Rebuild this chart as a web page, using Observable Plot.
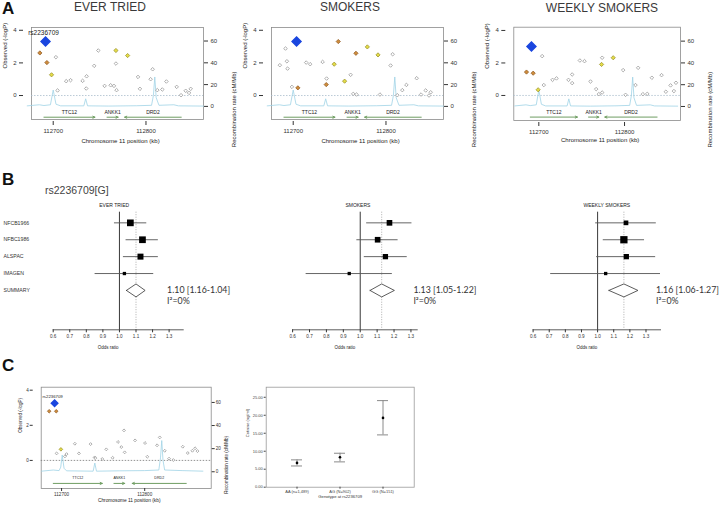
<!DOCTYPE html>
<html><head><meta charset="utf-8">
<script src="https://cdn.jsdelivr.net/npm/d3@7"></script>
<script src="https://cdn.jsdelivr.net/npm/@observablehq/plot@0.6"></script>
<style>
body{margin:0;background:#fff;}
#root{position:relative;width:722px;height:505px;overflow:hidden;background:#fff;font-family:"Liberation Sans",Arial,sans-serif;}
.abs{position:absolute;}
.letter{font-weight:bold;font-size:17px;color:#111;line-height:17px;}
.title{font-size:12px;color:#3a3a3a;white-space:nowrap;transform:translateX(-50%);line-height:14px;}
</style></head><body><div id="root"></div>
<script>
// ---------- DATA ----------
const locusTicksX = [112700, 112800];
const logpTicks = [0, 2, 4];
const recombTicks = [0, 20, 40, 60];
const genes = ["TTC12", "ANKK1", "DRD2"];
const geneStrand = [1, 1, -1];
const geneStartA = [112690, 112758, 112777];
const geneEndA = [112745, 112770, 112838];
const geneStartC = [112690, 112763, 112785];
const geneEndC = [112749, 112776, 112850];
const recombA = [[112672,0.5],[112685,1.5],[112690,0.8],[112697,1.5],[112700,15],[112703,2],[112708,0.5],[112733,0.5],[112735,7],[112737,0.5],[112760,0.3],[112790,0.6],[112806,1],[112808,10],[112809.5,27],[112811,8],[112814,1],[112830,1.5],[112835,0.5],[112862,0.3]];
const recombC = [[112676,0.5],[112690,1.5],[112697,1],[112699,4],[112700.8,14.5],[112703,3],[112706,0.8],[112738,0.5],[112740,7.5],[112742,0.5],[112770,0.8],[112800,1],[112817,1.5],[112819,12],[112820.5,27],[112822,10],[112824,1.5],[112845,1],[112870,0.5]];
const leadSnp = "rs2236709";

const everLead = [[112691.7,3.31]];
const everOrange = [[112685.6,2.61],[112693.2,2.02]];
const everYellow = [[112698.2,1.27],[112767.6,2.76],[112780.2,2.45]];
const everGray = [[112702.9,2.35],[112704.7,0.31],[112714,0.88],[112718.7,0.94],[112731.7,0.90],[112736,1.18],[112735.6,0.43],[112744.2,1.82],[112748.6,2.76],[112755.4,0.59],[112761.9,0.63],[112765.5,0.59],[112768.3,0.33],[112767.6,1.96],[112791.4,1.14],[112793.5,0.41],[112805,1.0],[112807.2,1.61],[112812.2,0.33],[112817.6,0.37],[112822,0.86],[112833.1,0.53],[112837.8,0.02],[112842.8,0.29],[112846.4,0.16],[112848.2,0.41]];

const smkLead = [[112703.6,3.31]];
const smkOrange = [[112705,0.47],[112735.6,0.67],[112748.6,3.31],[112767.6,2.59]];
const smkYellow = [[112744.2,1.92],[112755.4,0.88],[112779.9,2.98],[112791.4,2.49]];
const smkGray = [[112685.6,1.86],[112691.7,2.88],[112693.2,2.10],[112693.9,1.65],[112698.6,0.53],[112714,2.02],[112718.3,1.92],[112731.7,2.06],[112736,1.04],[112761.9,1.27],[112764.7,0.10],[112768.3,0.06],[112793.5,0.06],[112805,1.84],[112807.2,2.53],[112812.2,0.02],[112817.6,0.33],[112822,0.65],[112833.1,1.06],[112837.8,0.06],[112842.8,0.31],[112846.4,0.0],[112848.2,0.2]];

const wkLead = [[112691.4,3.02]];
const wkOrange = [[112685.6,1.44],[112693.4,1.37]];
const wkYellow = [[112699.2,0.35],[112773.2,1.91],[112786.8,2.32]];
const wkGray = [[112703.9,2.42],[112705.8,0.64],[112716,0.96],[112720.6,1.05],[112734.6,0.96],[112738.9,1.29],[112738.9,0.76],[112747.9,2.15],[112753.3,2.11],[112760.3,0.86],[112766.9,0.39],[112770,0.08],[112773.9,0.18],[112773.9,2.32],[112798.4,1.56],[112801.2,0.04],[112812.8,0.64],[112815.9,1.70],[112821.4,0.08],[112826.5,0.10],[112831.9,1.09],[112843.2,1.25],[112848.2,0.23],[112853.7,0.62],[112857.6,0.27],[112860,0.78]];

const cLead = [[112691.6,3.26]];
const cOrange = [[112685.1,2.80],[112693.6,2.80]];
const cYellow = [[112699.2,0.63]];
const cGray = [[112694,0.40],[112704,0.23],[112706,0.36],[112716,0.95],[112720.9,0.40],[112734.9,0.93],[112739.8,0.17],[112740.6,0.13],[112749,0.08],[112753.8,0.63],[112761.4,0.15],[112767.9,1.05],[112771.9,0.76],[112775.9,0.46],[112775.1,1.71],[112788.4,1.14],[112800.4,0.99],[112803.2,0.21],[112814.9,0.86],[112818.1,1.31],[112824.1,0.55],[112829.3,0.10],[112834.5,0.02],[112845.8,0.78],[112851.8,0.42],[112857.4,0.55],[112860.6,0.69],[112863.5,0.53]];

// Forest plots
const studies = ["NFCB1966", "NFBC1986", "ALSPAC", "IMAGEN"];
const summaryLabel = "SUMMARY";
const orTicks = [0.6, 0.7, 0.8, 0.9, 1.0, 1.1, 1.2, 1.3];
const everOR = [1.066, 1.139, 1.127, 1.03];
const everLo = [0.97, 1.04, 1.024, 0.853];
const everHi = [1.165, 1.235, 1.235, 1.207];
const everW = [45, 45, 36, 11];
const everSum = [1.10, 1.042, 1.155];
const everText = ["1.10 [1.16-1.04]", "I²=0%"];
const smkOR = [1.173, 1.103, 1.149, 0.935];
const smkLo = [1.038, 0.98, 1.024, 0.68];
const smkHi = [1.306, 1.224, 1.278, 1.19];
const smkW = [32, 32, 28, 11];
const smkSum = [1.127, 1.058, 1.202];
const smkText = ["1.13 [1.05-1.22]", "I²=0%"];
const wkOR = [1.176, 1.163, 1.178, 1.05];
const wkLo = [0.988, 1.035, 0.994, 0.709];
const wkHi = [1.364, 1.291, 1.36, 1.39];
const wkW = [22, 53, 28, 11];
const wkSum = [1.163, 1.07, 1.25];
const wkText = ["1.16 [1.06-1.27]", "I²=0%"];

// Cotinine by genotype
const genotypes = ["AA (n=1,489)", "AG (N=902)", "GG (N=151)"];
const cotMean = [6.76, 8.33, 19.26];
const cotLo = [5.9, 7.04, 14.54];
const cotHi = [7.6, 9.44, 24.07];
const cotTicks = [0, 5, 10, 15, 20, 25];

// ---------- DRAWING ----------
const root = document.getElementById("root");
const FONT = "'Liberation Sans', Arial, sans-serif";
function place(el, left, top) {
  const d = document.createElement("div");
  d.className = "abs"; d.style.left = left + "px"; d.style.top = top + "px";
  d.appendChild(el); root.appendChild(d);
}
function html(cls, text, left, top, extra) {
  const d = document.createElement("div");
  d.className = "abs " + cls; d.textContent = text;
  d.style.left = left + "px"; d.style.top = top + "px";
  if (extra) Object.assign(d.style, extra);
  root.appendChild(d);
}

function locus(o) {
  const toLeft = r => o.R0 + r * o.RS;
  const gi = genes.map((g, i) => i);
  const fs = o.fs;
  const marks = [
    Plot.frame({stroke: "#8a8a8a", strokeWidth: 0.8}),
    Plot.ruleY([0], {stroke: o.zeroColor, strokeDasharray: "1.5,1.5", strokeWidth: 0.8}),
    Plot.line(o.recomb, {x: d => d[0], y: d => toLeft(d[1]), stroke: "#9fd3e6", strokeWidth: 0.8}),
    Plot.arrow(gi, {
      x1: i => geneStrand[i] > 0 ? o.gs[i] : o.ge[i],
      x2: i => geneStrand[i] > 0 ? o.ge[i] : o.gs[i],
      y1: () => o.geneY, y2: () => o.geneY,
      stroke: "#6f9e62", strokeWidth: 1, headLength: 3.5, headAngle: 50
    }),
    Plot.text(gi, {x: i => (o.gs[i] + o.ge[i]) / 2, y: () => o.geneY + 0.31, text: i => genes[i], fontSize: o.geneFs, fill: "#222"}),
    Plot.dot(o.gray, {x: d => d[0], y: d => d[1], symbol: "diamond2", r: o.rGray, stroke: "#999", fill: "white", strokeWidth: 0.8}),
    Plot.dot(o.yellow, {x: d => d[0], y: d => d[1], symbol: "diamond2", r: o.rCol, stroke: "#9d9530", fill: "#e4dc47", strokeWidth: 0.8}),
    Plot.dot(o.orange, {x: d => d[0], y: d => d[1], symbol: "diamond2", r: o.rCol, stroke: "#94602a", fill: "#cf8d3c", strokeWidth: 0.8}),
    Plot.dot(o.lead, {x: d => d[0], y: d => d[1], symbol: "diamond2", r: o.rLead, fill: "#1a46df", stroke: "#1a46df"}),
    Plot.axisY(logpTicks, {anchor: "left", tickSize: o.tick, tickPadding: o.pad, dx: o.axDx, fontSize: fs, label: null}),
    Plot.axisY(recombTicks.map(toLeft), {anchor: "right", tickSize: o.tick, tickPadding: o.pad, fontSize: fs, label: null, tickFormat: d => String(Math.round((d - o.R0) / o.RS))}),
    Plot.axisX(locusTicksX, {tickSize: o.tick, tickPadding: o.pad, dy: o.axXdy, fontSize: fs, label: null, tickFormat: d => String(d)}),
    Plot.text(["Observed (-logP)"], {frameAnchor: "left", rotate: -90, dx: o.ylabDx, dy: -5, fontSize: fs, fill: "#222"}),
    Plot.text(["Recombination rate (cM/Mb)"], {frameAnchor: "right", rotate: -90, dx: o.rlabDx, dy: -2, fontSize: fs, fill: "#222"}),
    Plot.text(["Chromosome 11 position (kb)"], {frameAnchor: "bottom", dy: o.xlabDy, dx: 3, fontSize: o.xlabFs, fill: "#222"})
  ];
  if (o.showLabel) marks.push(Plot.text(o.lead, {x: d => d[0], y: d => d[1], text: () => leadSnp, dy: o.labDy, dx: -2, fontSize: o.labFs, fill: "#222"}));
  const p = Plot.plot({
    width: o.width, height: o.height,
    marginLeft: o.ml, marginRight: o.mr, marginTop: o.mt, marginBottom: o.mb,
    x: {domain: o.xd, axis: null}, y: {domain: o.yd, axis: null},
    style: {fontFamily: FONT, background: "transparent", overflow: "visible", color: "#333"},
    marks
  });
  place(p, o.left, o.top);
}

const common = {gs: geneStartA, ge: geneEndA, recomb: recombA, fs: 6, geneFs: 5, tick: 4, pad: 3, axDx: -8, axXdy: 2,
  rGray: 1.6, rCol: 1.9, rLead: 4, zeroColor: "#a9bccb", geneY: -1.33, xlabFs: 6, labFs: 6.5, labDy: -9,
  width: 240, height: 130, top: 20, mt: 7, mb: 31, ml: 31, mr: 37, ylabDx: -26.5, rlabDx: 31, xlabDy: 23};
locus({...common, left: 0, xd: [112676.6, 112862], yd: [-1.47, 4.17], R0: -0.667, RS: 0.0668,
  lead: everLead, orange: everOrange, yellow: everYellow, gray: everGray, showLabel: true});
locus({...common, left: 240, xd: [112676.6, 112862], yd: [-1.47, 4.17], R0: -0.667, RS: 0.0668,
  lead: smkLead, orange: smkOrange, yellow: smkYellow, gray: smkGray, showLabel: false});
locus({...common, left: 480, width: 242, ml: 33.3, mr: 42, mt: 6.7, mb: 30, rlabDx: 30, xlabDy: 21.7,
  xd: [112670.8, 112865.3], yd: [-1.54, 4.2], R0: -0.677, RS: 0.067,
  lead: wkLead, orange: wkOrange, yellow: wkYellow, gray: wkGray, showLabel: false});
locus({...common, left: 0, top: 370, width: 240, height: 135, ml: 40.7, mr: 29.3, mt: 16.7, mb: 17,
  gs: geneStartC, ge: geneEndC, recomb: recombC, fs: 4.6, geneFs: 3.6, tick: 3, pad: 1.5, axDx: -8, axXdy: 0,
  rGray: 1.3, rCol: 1.6, rLead: 2.9, zeroColor: "#777", geneY: -1.31, xlabFs: 4.8, labFs: 4.3, labDy: -6.7,
  ylabDx: -20.7, rlabDx: 15.5, xlabDy: 13.7,
  xd: [112675.5, 112880], yd: [-1.6, 4.17], R0: -0.646, RS: 0.0658,
  lead: cLead, orange: cOrange, yellow: cYellow, gray: cGray, showLabel: true});

function forest(o) {
  const n = studies.length;
  const idx = studies.map((s, i) => i);
  const h = 0.385;
  const [est, lo, hi] = o.sum;
  const diamond = [[lo, n], [est, n - h], [hi, n], [est, n + h], [lo, n]];
  const marks = [
    Plot.ruleX([1], {stroke: "#222", strokeWidth: 0.9}),
    Plot.ruleX([est], {stroke: "#999", strokeDasharray: "1,1.5", strokeWidth: 0.8}),
    Plot.ruleY(idx, {y: i => i, x1: i => o.lo[i], x2: i => o.hi[i], stroke: "#555", strokeWidth: 0.9}),
    Plot.dot(idx, {x: i => o.or[i], y: i => i, r: i => o.w[i], symbol: "square", fill: "#000"}),
    Plot.line(diamond, {x: d => d[0], y: d => d[1], fill: "white", stroke: "#333", strokeWidth: 0.8}),
    Plot.text([o.text[0]], {x: () => hi, y: () => n, dx: o.textDx, textAnchor: "start", fontSize: 8.8, fill: "#333", fontFamily: "Lato"}),
    Plot.text([o.text[1]], {x: () => hi, y: () => n, dx: o.textDx, dy: 11, textAnchor: "start", fontSize: 8.8, fill: "#333", fontFamily: "Lato"}),
    Plot.text([o.title], {frameAnchor: "top", dy: -8.7, dx: o.titleDx, fontSize: 5, fill: "#222"}),
    Plot.frame({anchor: "bottom", stroke: "#333", strokeWidth: 0.8}),
    Plot.axisX(orTicks, {tickSize: 3, tickPadding: 1.5, fontSize: 4.6, tickFormat: d3.format(".1f"), label: null}),
    Plot.text(["Odds ratio"], {frameAnchor: "bottom", dy: 19, dx: -10, fontSize: 4.5, fill: "#222"})
  ];
  if (o.labels) marks.push(Plot.text([...studies, summaryLabel], {y: (d, i) => i, text: d => d, frameAnchor: "left", textAnchor: "start", dx: -49.7, fontSize: 5.2, fill: "#333"}));
  const p = Plot.plot({
    width: o.width, height: 156, marginTop: 15.7, marginBottom: 22.7, marginLeft: o.ml, marginRight: o.mr,
    x: {domain: o.xd, axis: null}, y: {domain: [6.33, -0.63], axis: null},
    r: {type: "sqrt", domain: [0, 100], range: [0, 5.64]},
    style: {fontFamily: FONT, background: "transparent", overflow: "visible", color: "#333"},
    marks
  });
  place(p, o.left, 196);
}
forest({left: 0, width: 250, ml: 52.7, mr: 67.3, xd: [0.6, 1.385], or: everOR, lo: everLo, hi: everHi, w: everW, sum: everSum, text: everText, title: "EVER TRIED", titleDx: -4, textDx: 22, labels: true});
forest({left: 250, width: 240, ml: 42.1, mr: 73.3, xd: [0.6, 1.337], or: smkOR, lo: smkLo, hi: smkHi, w: smkW, sum: smkSum, text: smkText, title: "SMOKERS", titleDx: 3, textDx: 19, labels: false});
forest({left: 490, width: 232, ml: 42.6, mr: 62, xd: [0.6, 1.39], or: wkOR, lo: wkLo, hi: wkHi, w: wkW, sum: wkSum, text: wkText, title: "WEEKLY SMOKERS", titleDx: 10, textDx: 18, labels: false});

// Cotinine panel
{
  const p = Plot.plot({
    width: 190, height: 135, marginLeft: 25.7, marginRight: 16.3, marginTop: 16.7, marginBottom: 18.3,
    x: {type: "band", domain: genotypes, paddingInner: 0.75, paddingOuter: 0.557, axis: null},
    y: {domain: [0, 27.8], axis: null},
    style: {fontFamily: FONT, background: "transparent", overflow: "visible", color: "#444"},
    marks: [
      Plot.frame({stroke: "#999", strokeWidth: 0.8}),
      Plot.ruleX(genotypes, {x: d => d, y1: (d, i) => cotLo[i], y2: (d, i) => cotHi[i], stroke: "#8a8a8a", strokeWidth: 1}),
      Plot.tickY(genotypes, {x: d => d, y: (d, i) => cotLo[i], stroke: "#8a8a8a", strokeWidth: 1}),
      Plot.tickY(genotypes, {x: d => d, y: (d, i) => cotHi[i], stroke: "#8a8a8a", strokeWidth: 1}),
      Plot.dot(genotypes, {x: d => d, y: (d, i) => cotMean[i], r: 1.3, fill: "#000"}),
      Plot.axisY(cotTicks, {tickSize: 2, tickPadding: 1.5, fontSize: 4, tickFormat: d3.format(".2f"), label: null}),
      Plot.axisX({tickSize: 2, tickPadding: 0.5, fontSize: 4, label: null}),
      Plot.text(["Cotinine (ng/ml)"], {frameAnchor: "left", rotate: -90, dx: -18.4, fontSize: 4, fill: "#333"}),
      Plot.text(["Genotype at rs2236709"], {frameAnchor: "bottom", dy: 10.8, fontSize: 4.2, fill: "#333"})
    ]
  });
  place(p, 240, 370);
}

// Panel letters & titles
html("letter", "A", 2, 0);
html("title", "EVER TRIED", 110, 0);
html("title", "SMOKERS", 350, 0);
html("title", "WEEKLY SMOKERS", 602, 1);
html("letter", "B", 2, 171);
html("", "rs2236709[G]", 45, 184, {fontSize: "10.5px", color: "#444", lineHeight: "12px", whiteSpace: "nowrap"});
html("letter", "C", 2, 357);
</script></body></html>
